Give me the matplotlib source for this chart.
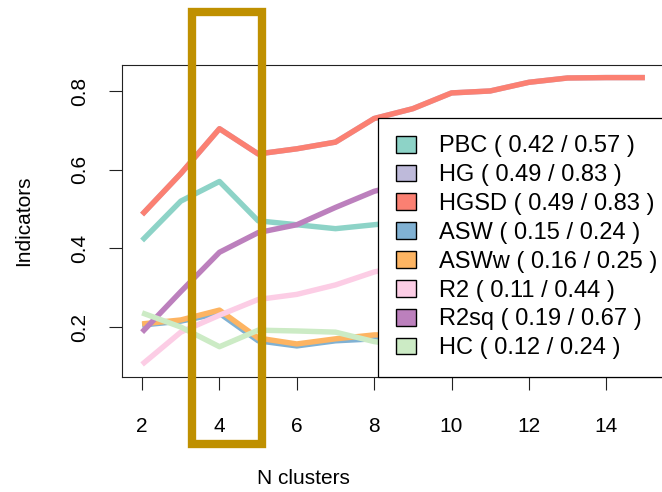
import matplotlib

matplotlib.use("Agg")
import matplotlib.pyplot as plt
from matplotlib.patches import Patch, Rectangle

plt.rcParams["font.family"] = ["Liberation Sans", "DejaVu Sans"]

# cluster quality indicators per number of clusters
n_clusters = list(range(2, 16))
pbc = [0.42, 0.52, 0.57, 0.47, 0.46, 0.45, 0.46, 0.47, 0.48, 0.48, 0.49, 0.49, 0.50, 0.50]
hg = [0.486, 0.59, 0.704, 0.64, 0.653, 0.67, 0.73, 0.755, 0.795, 0.80, 0.822, 0.833, 0.834, 0.834]
hgsd = [0.486, 0.59, 0.704, 0.64, 0.653, 0.67, 0.73, 0.755, 0.795, 0.80, 0.822, 0.833, 0.834, 0.834]
asw = [0.205, 0.215, 0.235, 0.165, 0.152, 0.165, 0.17, 0.17, 0.18, 0.18, 0.19, 0.19, 0.20, 0.20]
asww = [0.208, 0.218, 0.243, 0.172, 0.157, 0.17, 0.18, 0.18, 0.19, 0.19, 0.20, 0.20, 0.21, 0.21]
r2 = [0.105, 0.187, 0.23, 0.27, 0.283, 0.307, 0.34, 0.36, 0.38, 0.39, 0.41, 0.42, 0.43, 0.44]
r2sq = [0.187, 0.29, 0.39, 0.44, 0.46, 0.504, 0.545, 0.57, 0.60, 0.62, 0.64, 0.65, 0.66, 0.67]
hc = [0.236, 0.20, 0.15, 0.192, 0.19, 0.187, 0.163, 0.15, 0.14, 0.14, 0.13, 0.13, 0.12, 0.12]

names = ["PBC", "HG", "HGSD", "ASW", "ASWw", "R2", "R2sq", "HC"]
ranges = ["0.42 / 0.57", "0.49 / 0.83", "0.49 / 0.83", "0.15 / 0.24",
          "0.16 / 0.25", "0.11 / 0.44", "0.19 / 0.67", "0.12 / 0.24"]
series = [pbc, hg, hgsd, asw, asww, r2, r2sq, hc]
colors = ["#8DD3C7", "#BEBADA", "#FB8072", "#80B1D3",
          "#FDB462", "#FCCDE5", "#BC80BD", "#CCEBC5"]

W, H = 662, 492
fig = plt.figure(figsize=(W / 100, H / 100), dpi=100)


def fig_box(left, top, right, bottom):
    # pixel box (origin top-left) -> figure fraction [x0, y0, w, h]
    return [left / W, 1 - bottom / H, (right - left) / W, (bottom - top) / H]


ax = fig.add_axes(fig_box(122, 65, 665, 377))

for ys, col in zip(series, colors):
    ax.plot(n_clusters, ys, color=col, linewidth=3.9, solid_capstyle="butt")

ax.set_xlim(1.48, 15.52)
ax.set_ylim(0.073, 0.866)
ax.set_xticks([2, 4, 6, 8, 10, 12, 14])
ax.set_yticks([0.2, 0.4, 0.6, 0.8])
ax.tick_params(axis="both", direction="out", length=9.5, width=0.8,
               labelsize=15, color="#222222")
ax.tick_params(axis="x", pad=19)
ax.tick_params(axis="y", pad=14, labelrotation=90)
for lab in ax.get_yticklabels():
    lab.set_verticalalignment("center")
for spine in ax.spines.values():
    spine.set_linewidth(0.8)
    spine.set_color("#222222")

fig.text(303 / W, 1 - 478 / H, "N clusters", fontsize=15, ha="center", va="center")
fig.text(24 / W, 1 - 221 / H, "Indicators", fontsize=15, rotation=90,
         ha="center", va="center")

handles = [Patch(facecolor=c, edgecolor="black", linewidth=1.0) for c in colors]
labels = [f"{n} ( {r} )" for n, r in zip(names, ranges)]
leg = ax.legend(handles, labels, loc="lower left", mode="expand",
                bbox_to_anchor=(0.4715, 0.0, 0.60, 0.2), fontsize=17,
                frameon=True, fancybox=False, framealpha=1, edgecolor="black",
                borderpad=0.75, labelspacing=0.29, handlelength=0.85,
                handleheight=0.72, handletextpad=1.0, borderaxespad=0.0)
leg.get_frame().set_linewidth(0.9)

# highlight frame around k = 4
fig.add_artist(Rectangle((191.5 / W, 1 - 444 / H), 70 / W, 432 / H,
                         transform=fig.transFigure, fill=False,
                         edgecolor="#BF9000", linewidth=6, joinstyle="miter",
                         clip_on=False))

fig.savefig("out.png", dpi=100)
